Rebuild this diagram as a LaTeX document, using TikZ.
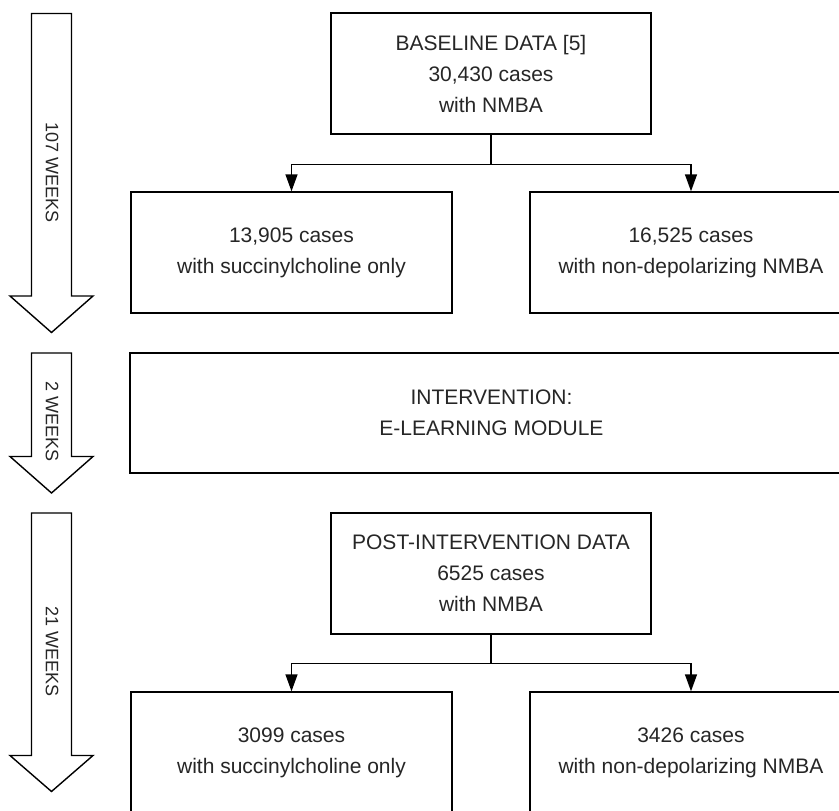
\documentclass[tikz,border=0pt]{standalone}
\usepackage{fontspec}
\setmainfont{Liberation Sans}
\usetikzlibrary{arrows.meta}
\begin{document}
\begin{tikzpicture}[x=1pt,y=-1pt,
  box/.style={draw=black,line width=1.4pt,fill=white,rectangle,inner sep=0pt,align=center,
    font=\fontsize{21}{31}\selectfont,text=black!85},
  conn/.style={line width=1.4pt,draw=black},
  arr/.style={conn,-{Triangle[width=12pt,length=17pt]}},
  bigarrow/.style={draw=black,line width=1.4pt,fill=white,line join=miter},
  weeks/.style={rotate=-90,font=\fontsize{18}{18}\selectfont,text=black!85,inner sep=0pt}]
\clip (0,0) rectangle (839,811);
\fill[white] (0,0) rectangle (839,811);
% time arrows
\draw[bigarrow] (31.5,13.5) -- (71.5,13.5) -- (71.5,296) -- (93,296) -- (51.5,332.5) -- (10,296) -- (31.5,296) -- cycle;
\draw[bigarrow] (31.5,353) -- (71.5,353) -- (71.5,456.5) -- (93,456.5) -- (51.5,493) -- (10,456.5) -- (31.5,456.5) -- cycle;
\draw[bigarrow] (31.5,513) -- (71.5,513) -- (71.5,755.5) -- (93,755.5) -- (51.5,791.5) -- (10,755.5) -- (31.5,755.5) -- cycle;
\node[weeks] (w1) at (52,173) {107 WEEKS};
\node[weeks] (w2) at (52,422) {2 WEEKS};
\node[weeks] (w3) at (52,652) {21 WEEKS};
% boxes
\node[box,minimum width=320,minimum height=121] (base) at (491,73.5) {BASELINE DATA [5]\\30,430 cases\\with NMBA};
\node[box,minimum width=321,minimum height=121] (sux1) at (291.5,252.5) {13,905 cases\\with succinylcholine only};
\node[box,minimum width=322,minimum height=121] (nd1) at (691,252.5) {16,525 cases\\with non-depolarizing NMBA};
\node[box,minimum width=723,minimum height=120] (int) at (491.5,413) {INTERVENTION:\\E-LEARNING MODULE};
\node[box,minimum width=320,minimum height=121] (post) at (491,573.5) {POST-INTERVENTION DATA\\6525 cases\\with NMBA};
\node[box,minimum width=321,minimum height=121] (sux2) at (291.5,752.5) {3099 cases\\with succinylcholine only};
\node[box,minimum width=322,minimum height=121] (nd2) at (691,752.5) {3426 cases\\with non-depolarizing NMBA};
% connectors
\draw[conn] (base.south) -- ++(0,29.5) coordinate (j1);
\draw[arr] (j1) -| (sux1.north);
\draw[arr] (j1) -| (nd1.north);
\draw[conn] (post.south) -- ++(0,29) coordinate (j2);
\draw[arr] (j2) -| (sux2.north);
\draw[arr] (j2) -| (nd2.north);
\end{tikzpicture}
\end{document}
